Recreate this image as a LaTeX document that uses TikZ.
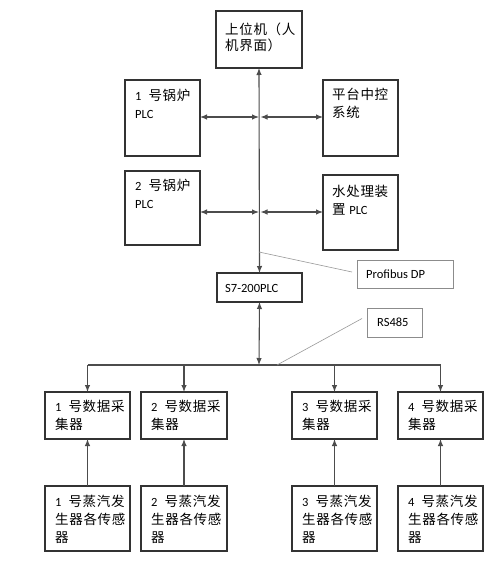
\documentclass[tikz,border=0pt]{standalone}
\usepackage{fontspec}
\setmainfont{Carlito}
\newfontfamily\cjk[LetterSpace=5]{Noto Sans CJK SC}
\newfontfamily\latf{Carlito}
\usetikzlibrary{arrows.meta}
\newcommand\lt[1]{{\latf\fontsize{12.5}{18}\selectfont #1}}
\newcommand\num[1]{\lt{#1}\hspace{7pt}}
\begin{document}
\begin{tikzpicture}[x=1pt,y=-1pt,
  box/.style={draw=black!80, line width=1.1pt, inner sep=0pt, outer sep=0pt, anchor=north west},
  thinbox/.style={draw=black!45, line width=0.8pt, inner sep=0pt, outer sep=0pt, anchor=north west},
  lbl/.style={anchor=north west, align=left, inner sep=0pt, font=\cjk\fontsize{13.5}{18}\selectfont},
  arr/.style={draw=black!70, line width=1.1pt, -{Latex[length=7pt,width=5.5pt]}},
  darr/.style={draw=black!70, line width=1.1pt, {Latex[length=7pt,width=5.5pt]}-{Latex[length=7pt,width=5.5pt]}},
  lead/.style={draw=black!40, line width=0.6pt},
  bus/.style={draw=black!70, line width=1.1pt}]
\useasboundingbox (0,0) rectangle (499,565);
\fill[white] (0,0) rectangle (499,565);
% boxes
\node[box, minimum width=86pt, minimum height=57pt] (top) at (216,11) {};
\node[box, minimum width=75pt, minimum height=76pt] (b1) at (125,80) {};
\node[box, minimum width=75pt, minimum height=76pt] (p1) at (323,80) {};
\node[box, minimum width=75pt, minimum height=74pt] (b2) at (125,171) {};
\node[box, minimum width=75pt, minimum height=75pt] (w) at (323,175) {};
\node[box, minimum width=85pt, minimum height=29pt] (s7) at (217,273) {};
\node[thinbox, minimum width=96pt, minimum height=28pt] (pdp) at (357,260) {};
\node[thinbox, minimum width=55pt, minimum height=29pt] (rs) at (367,308) {};
\node[box, minimum width=85pt, minimum height=47pt] (c1) at (45,392) {};
\node[box, minimum width=86pt, minimum height=47pt] (c2) at (141,392) {};
\node[box, minimum width=85pt, minimum height=47pt] (c3) at (292,392) {};
\node[box, minimum width=85pt, minimum height=47pt] (c4) at (398,392) {};
\node[box, minimum width=85pt, minimum height=65pt] (s1) at (45,486) {};
\node[box, minimum width=86pt, minimum height=65pt] (s2) at (141,486) {};
\node[box, minimum width=85pt, minimum height=65pt] (s3) at (292,486) {};
\node[box, minimum width=85pt, minimum height=65pt] (s4) at (398,486) {};
% labels
\node[lbl, font=\cjk\fontsize{13.5}{16}\selectfont] (ttop) at (225,23) {上位机（人\\机界面）};
\node[lbl] (tb1) at (135,89) {\num{1}号锅炉\\\lt{PLC}};
\node[lbl] (tp1) at (332,88) {平台中控\\系统};
\node[lbl] (tb2) at (135,179) {\num{2}号锅炉\\\lt{PLC}};
\node[lbl] (tw) at (332,185) {水处理装\\置 \lt{PLC}};
\node[anchor=west, inner sep=0pt, font=\latf\fontsize{12.5}{14}\selectfont] (ts7) at (225,288) {S7-200PLC};
\node[anchor=west, inner sep=0pt, font=\latf\fontsize{12.5}{14}\selectfont] (tpdp) at (366,274) {Profibus DP};
\node[anchor=west, inner sep=0pt, font=\latf\fontsize{12.5}{14}\selectfont] (trs) at (377,322.5) {RS485};
\node[lbl] (tc1) at (55,400) {\num{1}号数据采\\集器};
\node[lbl] (tc2) at (151,400) {\num{2}号数据采\\集器};
\node[lbl] (tc3) at (302,400) {\num{3}号数据采\\集器};
\node[lbl] (tc4) at (408,400) {\num{4}号数据采\\集器};
\node[lbl] (ts1) at (55,495) {\num{1}号蒸汽发\\生器各传感\\器};
\node[lbl] (ts2) at (151,495) {\num{2}号蒸汽发\\生器各传感\\器};
\node[lbl] (ts3) at (302,495) {\num{3}号蒸汽发\\生器各传感\\器};
\node[lbl] (ts4) at (408,495) {\num{4}号蒸汽发\\生器各传感\\器};
% spine
\coordinate (sp1) at (259,117);
\coordinate (sp2) at (259,212);
\coordinate (busc) at (259,365);
\coordinate (busL) at (c1.north |- busc);
\coordinate (busR) at (c4.north |- busc);
\coordinate (pt1) at (259,252);
\coordinate (pt2) at (277,365);
\draw[darr] (top.south) -- (s7.north);
\draw[darr] (b1.east |- sp1) -- (sp1);
\draw[darr] ([xshift=1.5pt]sp1) -- (p1.west |- sp1);
\draw[darr] (b2.east |- sp2) -- (sp2);
\draw[darr] ([xshift=1.5pt]sp2) -- (w.west |- sp2);
\draw[darr] (s7.south) -- (busc);
\draw[bus] (busL) -- (busR);
\foreach \c in {c1,c2,c3,c4} \draw[arr] (\c.north |- busc) -- (\c.north);
\draw[arr] (s1.north) -- (c1.south);
\draw[arr] (s2.north) -- (c2.south);
\draw[arr] (s3.north) -- (c3.south);
\draw[arr] (s4.north) -- (c4.south);
\draw[lead] (pt1) -- ([xshift=-5pt,yshift=2pt]pdp.west);
\draw[lead] (pt2) -- ([xshift=-5pt,yshift=4pt]rs.west);
\end{tikzpicture}
\end{document}
